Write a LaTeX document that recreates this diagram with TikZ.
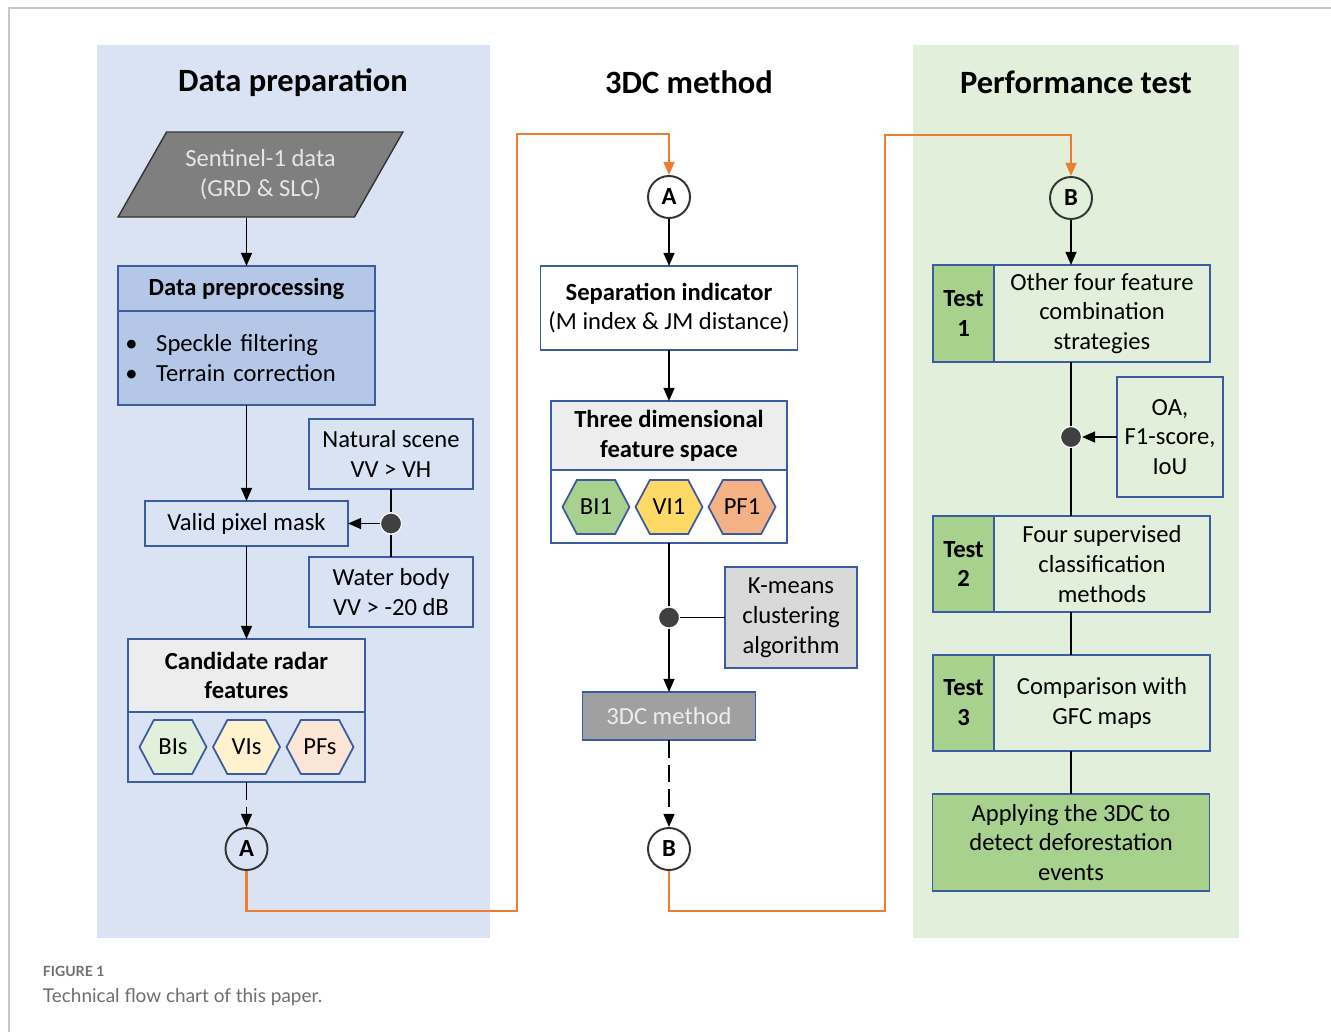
\documentclass[tikz,border=0pt]{standalone}
\usepackage{fontspec}
\setmainfont{Carlito}
\newfontfamily\capfont{Lato}
\usepackage{tikz}
\usetikzlibrary{arrows.meta}
\usetikzlibrary{positioning}
\usetikzlibrary{shapes.geometric}
\usetikzlibrary{shapes.symbols}

\definecolor{panelblue}{HTML}{DAE3F3}
\definecolor{panelgreen}{HTML}{E2EFDA}
\definecolor{prepblue}{HTML}{B4C7E7}
\definecolor{boxblue}{HTML}{3B5CA0}
\definecolor{headgray}{HTML}{EDEDED}
\definecolor{kgray}{HTML}{D9D9D9}
\definecolor{methgray}{HTML}{A0A0A0}
\definecolor{methtext}{HTML}{EEEEEE}
\definecolor{sentgray}{HTML}{7F7F7F}
\definecolor{senttext}{HTML}{E6E6E6}
\definecolor{testgreen}{HTML}{A9D18E}
\definecolor{hexyellow}{HTML}{FFD966}
\definecolor{hexorange}{HTML}{F4B183}
\definecolor{hexpalegreen}{HTML}{E2EFDA}
\definecolor{hexpaleyellow}{HTML}{FFF2CC}
\definecolor{hexpaleorange}{HTML}{FBE5D6}
\definecolor{linkorange}{HTML}{ED7D31}
\definecolor{framegray}{HTML}{C8C8C8}
\definecolor{capgray}{HTML}{6E6E6E}

\begin{document}
\begin{tikzpicture}[x=0.02cm,y=-0.02cm,>={Triangle[length=7.5pt,width=6.2pt]},line width=1.1pt,
	box node/.style={draw=boxblue,line width=1pt,outer sep=0pt,inner sep=2pt,align=center,font=\fontsize{14}{17}\selectfont},
	head node/.style={box node,font=\fontsize{14}{17}\selectfont\bfseries},
	test node/.style={box node,fill=testgreen,minimum width=1.22cm,font=\fontsize{14}{17}\selectfont\bfseries},
	hex node/.style={signal,signal to=east and west,signal pointer angle=124,draw=boxblue,line width=1pt,minimum width=1.34cm,minimum height=1.08cm,inner sep=0pt,font=\fontsize{14}{17}\selectfont},
	link node/.style={circle,draw=black!80,line width=1.1pt,minimum size=0.84cm,inner sep=0pt,font=\fontsize{14}{17}\selectfont\bfseries},
	join node/.style={circle,fill=black!75,draw=white,line width=0.6pt,minimum size=0.42cm,inner sep=0pt},
	title node/.style={font=\fontsize{18.5}{22}\selectfont\bfseries},
	orange line/.style={draw=linkorange,line width=1.2pt},
	dashed line/.style={dash pattern=on 10pt off 4pt}]

	\useasboundingbox (0,0) rectangle (1331,1032);

	% panels and frame
	\fill[panelblue] (97,45) rectangle (490,938);
	\fill[panelgreen] (913,45) rectangle (1239,938);
	\draw[framegray,line width=1.2pt] (9,1032) -- (9,8) -- (1331,8);

	\node[title node] (tprep) at (293,83) {Data preparation};
	\node[title node] (tmeth) at (689,82) {3DC method};
	\node[title node] (tperf) at (1076,82) {Performance test};

	% data preparation
	\node[trapezium,trapezium left angle=56,trapezium right angle=124,trapezium stretches=true,draw=black!80,line width=0.8pt,fill=sentgray,text=senttext,minimum width=5.7cm,minimum height=1.7cm,align=center,font=\fontsize{14}{17}\selectfont] (sent) at (260.5,174.5) {Sentinel-1 data\\(GRD \& SLC)};
	\node[head node,fill=prepblue,minimum width=5.14cm,minimum height=0.9cm] (prephead) at (246.5,288.5) {Data preprocessing};
	\node[box node,fill=prepblue,minimum width=5.14cm,minimum height=1.88cm,align=left,text width=4.85cm] (prepbody) [below=0pt of prephead] {\makebox[0.62cm][l]{\textbullet}Speckle filtering\\\makebox[0.62cm][l]{\textbullet}Terrain correction};
	\node[box node,minimum width=4.06cm,minimum height=0.9cm] (mask) at (246.5,523.5) {Valid pixel mask};
	\node[box node,minimum width=3.28cm,minimum height=1.4cm] (natural) at (391,454) {Natural scene\\VV > VH};
	\node[box node,minimum width=3.28cm,minimum height=1.4cm] (water) at (391,592) {Water body\\VV > -20 dB};
	\node[join node] (jmask) at (391,523.5) {};
	\node[head node,fill=headgray,minimum width=4.74cm,minimum height=1.46cm] (candhead) at (246.5,675.5) {Candidate radar\\features};
	\node[box node,minimum width=4.74cm,minimum height=1.4cm] (candbody) [below=0pt of candhead] {};
	\node[hex node,fill=hexpalegreen] (bis) at (173,747) {BIs};
	\node[hex node,fill=hexpaleyellow] (vis) at (246.5,747) {VIs};
	\node[hex node,fill=hexpaleorange] (pfs) at (320,747) {PFs};
	\node[link node] (a1) at (246.5,849) {A};

	% 3DC method
	\node[link node] (a2) at (669,197) {A};
	\node[box node,minimum width=5.14cm,minimum height=1.68cm] (sep) at (669,308) {\textbf{Separation indicator}\\(M index \& JM distance)};
	\node[head node,fill=headgray,minimum width=4.72cm,minimum height=1.38cm] (feathead) at (669,435.5) {Three dimensional\\feature space};
	\node[box node,fill=white,minimum width=4.72cm,minimum height=1.46cm] (featbody) [below=0pt of feathead] {};
	\node[hex node,fill=testgreen] (bi1) at (596,507) {BI1};
	\node[hex node,fill=hexyellow] (vi1) at (669,507) {VI1};
	\node[hex node,fill=hexorange] (pf1) at (742,507) {PF1};
	\node[join node] (jkm) at (669,617.5) {};
	\node[box node,fill=kgray,minimum width=2.64cm,minimum height=2.02cm] (kmeans) at (791,617.5) {K-means\\clustering\\algorithm};
	\node[box node,fill=methgray,text=methtext,minimum width=3.46cm,minimum height=0.96cm] (meth) at (669,716) {3DC method};
	\node[link node] (b1) at (669,849) {B};

	% performance test
	\node[link node] (b2) at (1071,198) {B};
	\node[test node,minimum height=1.94cm] (t1lab) at (963.5,313.5) {Test\\1};
	\node[box node,minimum width=4.32cm,minimum height=1.94cm] (t1) [right=0pt of t1lab] {Other four feature\\combination\\strategies};
	\node[box node,minimum width=2.12cm,minimum height=2.4cm] (oa) at (1170,437) {OA,\\F1-score,\\IoU};
	\node[join node] (jtest) at (1071,437) {};
	\node[test node,minimum height=1.92cm] (t2lab) at (963.5,564) {Test\\2};
	\node[box node,minimum width=4.32cm,minimum height=1.92cm] (t2) [right=0pt of t2lab] {Four supervised\\classification\\methods};
	\node[test node,minimum height=1.92cm] (t3lab) at (963.5,703) {Test\\3};
	\node[box node,minimum width=4.32cm,minimum height=1.92cm] (t3) [right=0pt of t3lab] {Comparison with\\GFC maps};
	\node[box node,fill=testgreen,minimum width=5.54cm,minimum height=1.94cm] (apply) at (1071,842.5) {Applying the 3DC to\\detect deforestation\\events};

	% connectors
	\draw[->] (prephead.north |- sent.south) -- (prephead.north);
	\draw[->] (prepbody) -- (mask);
	\draw[->] (mask) -- (candhead);
	\draw (natural) -- (jmask) -- (water);
	\draw[->] (jmask) -- (mask);
	\draw[->,dashed line] (candbody) -- (a1);

	\draw[->] (a2) -- (sep);
	\draw[->] (sep) -- (feathead);
	\draw (featbody) -- (jkm);
	\draw (kmeans) -- (jkm);
	\draw[->] (jkm) -- (meth);
	\draw[->,dashed line] (meth) -- (b1);

	\draw[->] (b2) -- (b2 |- t1.north);
	\draw (b2 |- t1.south) -- (jtest) -- (b2 |- t2.north);
	\draw[->] (oa) -- (jtest);
	\draw (b2 |- t2.south) -- (b2 |- t3.north);
	\draw (b2 |- t3.south) -- (apply);

	% page links
	\coordinate (abot) at (517,911);
	\coordinate (atop) at (517,134);
	\coordinate (bbot) at (885,911);
	\coordinate (btop) at (885,135);
	\draw[orange line,->] (a1.south) |- (abot) -- (atop) -| (a2.north);
	\draw[orange line,->] (b1.south) |- (bbot) -- (btop) -| (b2.north);

	% caption
	\node[anchor=west,inner sep=0pt,text=capgray,font=\capfont\fontsize{8}{10}\selectfont\bfseries] (fignum) at (42,971) {FIGURE 1};
	\node[anchor=west,inner sep=0pt,text=capgray,font=\capfont\fontsize{10.8}{13}\selectfont] (figcap) at (42,997) {Technical flow chart of this paper.};

\end{tikzpicture}
\end{document}
